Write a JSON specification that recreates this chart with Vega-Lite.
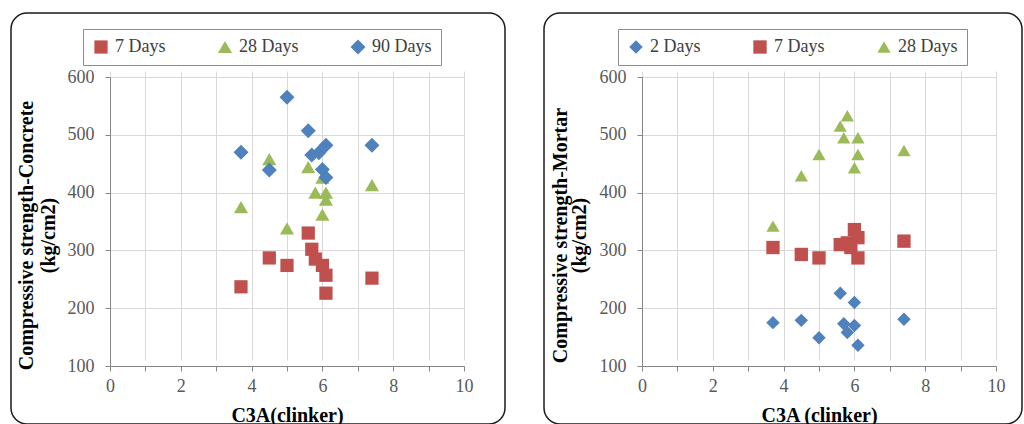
{
  "$schema": "https://vega.github.io/schema/vega-lite/v6.json",
  "background": "white",
  "padding": {"left": 10, "top": 12, "right": 0, "bottom": 0},
  "spacing": 37,
  "config": {
    "font": "Liberation Serif, Times New Roman, serif",
    "view": {"stroke": "#1a1a1a", "strokeWidth": 1.5, "cornerRadius": 16},
    "axis": {
      "labelFont": "Liberation Serif, Times New Roman, serif",
      "labelFontSize": 18,
      "labelColor": "#595959",
      "labelFlush": false,
      "titleFont": "Liberation Serif, Times New Roman, serif",
      "titleFontSize": 20,
      "titleFontWeight": "bold",
      "titleColor": "#000000",
      "gridColor": "#d9d9d9",
      "domainColor": "#868686",
      "tickColor": "#868686",
      "tickSize": 5
    },
    "legend": {
      "orient": "none",
      "direction": "horizontal",
      "title": null,
      "strokeColor": "#8c8c8c",
      "padding": 9,
      "columnPadding": 50,
      "labelFont": "Liberation Serif, Times New Roman, serif",
      "labelFontSize": 18,
      "labelColor": "#404040",
      "labelOffset": 5,
      "symbolSize": 100
    }
  },
  "resolve": {"scale": {"color": "independent", "shape": "independent", "size": "independent"}, "legend": {"color": "independent", "shape": "independent"}},
  "hconcat": [
    {
      "width": 494,
      "height": 411,
      "data": {"values": [
        {"series": "7 Days", "c3a": 3.7, "strength": 237},
        {"series": "7 Days", "c3a": 4.5, "strength": 287},
        {"series": "7 Days", "c3a": 5.0, "strength": 274},
        {"series": "7 Days", "c3a": 5.6, "strength": 330},
        {"series": "7 Days", "c3a": 5.7, "strength": 302},
        {"series": "7 Days", "c3a": 5.8, "strength": 285},
        {"series": "7 Days", "c3a": 6.0, "strength": 274},
        {"series": "7 Days", "c3a": 6.1, "strength": 257},
        {"series": "7 Days", "c3a": 6.1, "strength": 226},
        {"series": "7 Days", "c3a": 7.4, "strength": 252},
        {"series": "28 Days", "c3a": 3.7, "strength": 375},
        {"series": "28 Days", "c3a": 4.5, "strength": 458},
        {"series": "28 Days", "c3a": 5.0, "strength": 338},
        {"series": "28 Days", "c3a": 5.6, "strength": 444},
        {"series": "28 Days", "c3a": 5.8, "strength": 400},
        {"series": "28 Days", "c3a": 6.0, "strength": 426},
        {"series": "28 Days", "c3a": 6.0, "strength": 362},
        {"series": "28 Days", "c3a": 6.1, "strength": 400},
        {"series": "28 Days", "c3a": 6.1, "strength": 388},
        {"series": "28 Days", "c3a": 7.4, "strength": 413},
        {"series": "90 Days", "c3a": 3.7, "strength": 470},
        {"series": "90 Days", "c3a": 4.5, "strength": 439},
        {"series": "90 Days", "c3a": 5.0, "strength": 565},
        {"series": "90 Days", "c3a": 5.6, "strength": 507},
        {"series": "90 Days", "c3a": 5.7, "strength": 465},
        {"series": "90 Days", "c3a": 5.9, "strength": 469},
        {"series": "90 Days", "c3a": 6.0, "strength": 440},
        {"series": "90 Days", "c3a": 6.1, "strength": 482},
        {"series": "90 Days", "c3a": 6.1, "strength": 426},
        {"series": "90 Days", "c3a": 7.4, "strength": 482}
      ]},
      "mark": {"type": "point", "filled": true, "opacity": 1},
      "encoding": {
        "x": {"field": "c3a", "type": "quantitative",
          "scale": {"domain": [0, 10], "nice": false, "range": [99, 453]},
          "axis": {"title": "C3A(clinker)", "values": [0,1,2,3,4,5,6,7,8,9,10], "offset": -58,
            "labelExpr": "datum.value % 2 === 0 ? datum.label : ''",
            "labelPadding": 6, "titlePadding": 10}},
        "y": {"field": "strength", "type": "quantitative",
          "scale": {"domain": [100, 600], "nice": false, "range": [353, 64]},
          "axis": {"title": ["Compressive strength-Concrete", "(kg/cm2)"], "values": [100,200,300,400,500,600], "offset": -99,
            "labelPadding": 11, "titlePadding": 9, "titleLineHeight": 22, "titleY": 222}},
        "color": {"field": "series", "type": "nominal",
          "scale": {"domain": ["7 Days", "28 Days", "90 Days"], "range": ["#C0504D", "#9BBB59", "#4F81BD"]},
          "legend": {"legendX": 72, "legendY": 16}},
        "shape": {"field": "series", "type": "nominal",
          "scale": {"domain": ["7 Days", "28 Days", "90 Days"], "range": ["square", "triangle-up", "diamond"]}},
        "size": {"field": "series", "type": "nominal", "legend": null,
          "scale": {"domain": ["7 Days", "28 Days", "90 Days"], "range": [175, 225, 180]}}
      }
    },
    {
      "width": 478,
      "height": 411,
      "data": {"values": [
        {"series": "2 Days", "c3a": 3.7, "strength": 175},
        {"series": "2 Days", "c3a": 4.5, "strength": 179},
        {"series": "2 Days", "c3a": 5.0, "strength": 149},
        {"series": "2 Days", "c3a": 5.6, "strength": 226},
        {"series": "2 Days", "c3a": 5.7, "strength": 173},
        {"series": "2 Days", "c3a": 5.8, "strength": 158},
        {"series": "2 Days", "c3a": 6.0, "strength": 210},
        {"series": "2 Days", "c3a": 6.0, "strength": 170},
        {"series": "2 Days", "c3a": 6.1, "strength": 136},
        {"series": "2 Days", "c3a": 7.4, "strength": 181},
        {"series": "7 Days", "c3a": 3.7, "strength": 305},
        {"series": "7 Days", "c3a": 4.5, "strength": 293},
        {"series": "7 Days", "c3a": 5.0, "strength": 287},
        {"series": "7 Days", "c3a": 5.6, "strength": 310},
        {"series": "7 Days", "c3a": 5.8, "strength": 313},
        {"series": "7 Days", "c3a": 5.9, "strength": 305},
        {"series": "7 Days", "c3a": 6.0, "strength": 336},
        {"series": "7 Days", "c3a": 6.1, "strength": 322},
        {"series": "7 Days", "c3a": 6.1, "strength": 287},
        {"series": "7 Days", "c3a": 7.4, "strength": 316},
        {"series": "28 Days", "c3a": 3.7, "strength": 342},
        {"series": "28 Days", "c3a": 4.5, "strength": 429},
        {"series": "28 Days", "c3a": 5.0, "strength": 466},
        {"series": "28 Days", "c3a": 5.6, "strength": 515},
        {"series": "28 Days", "c3a": 5.7, "strength": 495},
        {"series": "28 Days", "c3a": 5.8, "strength": 533},
        {"series": "28 Days", "c3a": 6.0, "strength": 443},
        {"series": "28 Days", "c3a": 6.1, "strength": 495},
        {"series": "28 Days", "c3a": 6.1, "strength": 466},
        {"series": "28 Days", "c3a": 7.4, "strength": 473}
      ]},
      "mark": {"type": "point", "filled": true, "opacity": 1},
      "encoding": {
        "x": {"field": "c3a", "type": "quantitative",
          "scale": {"domain": [0, 10], "nice": false, "range": [98, 452]},
          "axis": {"title": "C3A (clinker)", "values": [0,1,2,3,4,5,6,7,8,9,10], "offset": -58,
            "labelExpr": "datum.value % 2 === 0 ? datum.label : ''",
            "labelPadding": 6, "titlePadding": 10}},
        "y": {"field": "strength", "type": "quantitative",
          "scale": {"domain": [100, 600], "nice": false, "range": [353, 64]},
          "axis": {"title": ["Compressive strength-Mortar", "(kg/cm2)"], "values": [100,200,300,400,500,600], "offset": -98,
            "labelPadding": 11, "titlePadding": 10, "titleLineHeight": 19, "titleY": 222}},
        "color": {"field": "series", "type": "nominal",
          "scale": {"domain": ["2 Days", "7 Days", "28 Days"], "range": ["#4F81BD", "#C0504D", "#9BBB59"]},
          "legend": {"legendX": 74, "legendY": 16}},
        "shape": {"field": "series", "type": "nominal",
          "scale": {"domain": ["2 Days", "7 Days", "28 Days"], "range": ["diamond", "square", "triangle-up"]}},
        "size": {"field": "series", "type": "nominal", "legend": null,
          "scale": {"domain": ["2 Days", "7 Days", "28 Days"], "range": [180, 175, 225]}}
      }
    }
  ]
}
